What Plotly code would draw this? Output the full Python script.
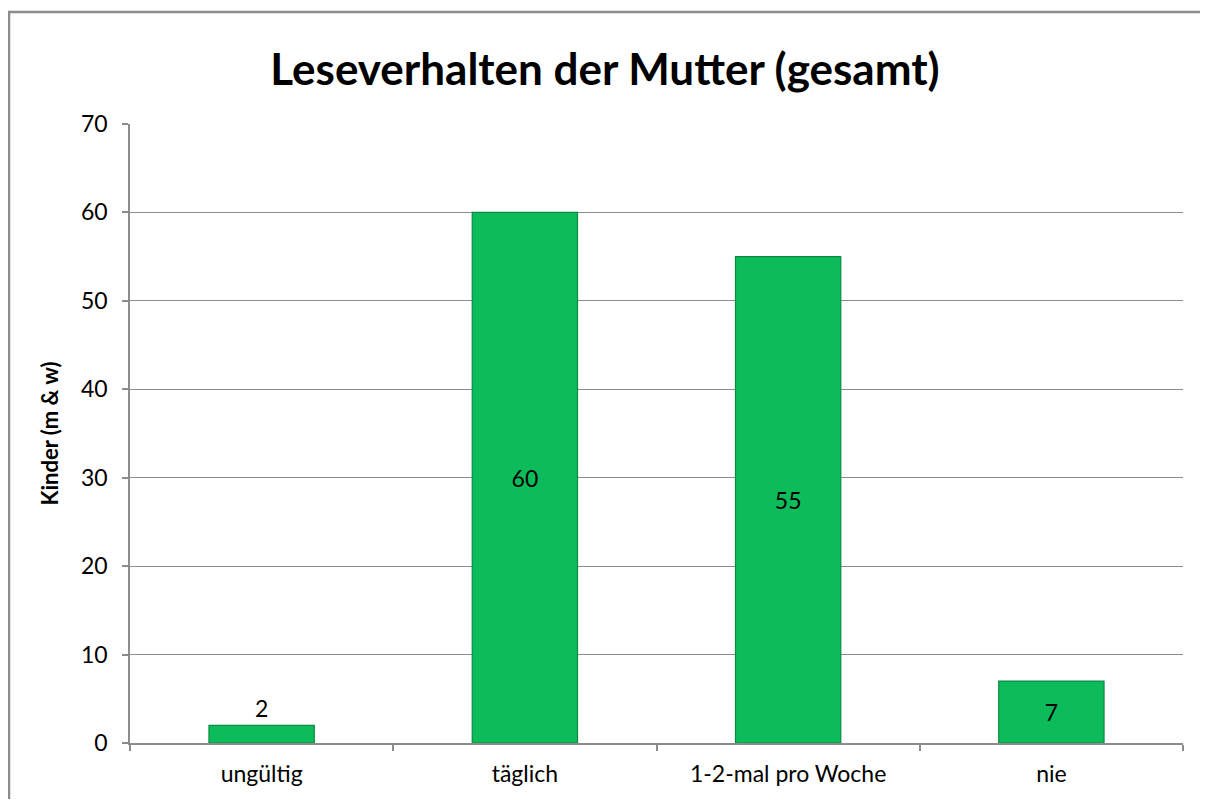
import plotly.graph_objects as go

categories = ["ungültig", "täglich", "1-2-mal pro Woche", "nie"]
values = [2, 60, 55, 7]
label_positions = ["outside", "inside", "inside", "inside"]

title_text = "Leseverhalten der Mutter (gesamt)"
y_title = "Kinder (m & w)"
y_ticks = [0, 10, 20, 30, 40, 50, 60, 70]

FONT = "Lato, Carlito, Calibri, sans-serif"

W, H = 1192, 791
L, R, T, B = 122, 17, 116, 50

fig = go.Figure()
fig.add_trace(go.Bar(
    x=categories,
    y=values,
    width=0.4,
    marker=dict(color="#0CBC5B", line=dict(color="#0A8A43", width=1.2)),
    text=[str(v) for v in values],
    textposition=label_positions,
    insidetextanchor="middle",
    textfont=dict(family=FONT, size=23, color="black"),
    cliponaxis=False,
    hoverinfo="skip",
))

fig.update_layout(
    width=W, height=H,
    margin=dict(l=L, r=R, t=T, b=B),
    paper_bgcolor="white", plot_bgcolor="white",
    font=dict(family=FONT, size=23, color="black"),
    showlegend=False,
    uniformtext=dict(mode=False),
    title=dict(text="<b>" + title_text + "</b>", x=(605 - 8) / W, xanchor="center",
               y=1 - 62 / H, yanchor="middle",
               font=dict(family=FONT, size=44, color="black")),
    xaxis=dict(
        type="category",
        tickson="boundaries",
        ticks="outside", ticklen=6, tickcolor="#8c8c8c", tickwidth=1.5,
        ticklabelstandoff=10,
        showline=True, linecolor="#8c8c8c", linewidth=1.5,
        showgrid=False,
        tickfont=dict(family=FONT, size=23, color="black"),
    ),
    yaxis=dict(
        range=[0, 70],
        tickvals=y_ticks,
        ticks="outside", ticklen=6, tickcolor="#8c8c8c", tickwidth=1.5,
        ticklabelstandoff=10,
        showline=True, linecolor="#8c8c8c", linewidth=1.5,
        showgrid=True, gridcolor="#8c8c8c", gridwidth=1.2,
        zeroline=False,
        tickfont=dict(family=FONT, size=23, color="black"),
        title=dict(text="<b>" + y_title + "</b>", standoff=16,
                   font=dict(family=FONT, size=22, color="black")),
    ),
)

# outer chart border
plot_w = W - L - R
plot_h = H - T - B
fig.add_shape(type="rect", xref="paper", yref="paper",
              x0=(1 - L) / plot_w, x1=(W + 30 - L) / plot_w,
              y0=-(H + 30 - (H - B)) / plot_h, y1=(H - B - 3) / plot_h,
              line=dict(color="#8c8c8c", width=2.5), fillcolor="rgba(0,0,0,0)",
              layer="below")

fig.write_html("out.html")
